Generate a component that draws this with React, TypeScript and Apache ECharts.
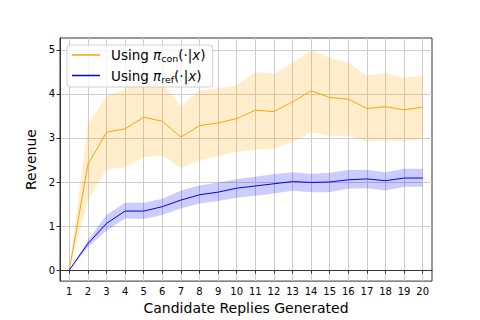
import React, { useEffect, useRef } from "react";
import * as echarts from "echarts";

const xs = [1, 2, 3, 4, 5, 6, 7, 8, 9, 10, 11, 12, 13, 14, 15, 16, 17, 18, 19, 20];
const conMean = [0, 2.4, 3.13, 3.21, 3.47, 3.38, 3.02, 3.28, 3.34, 3.44, 3.63, 3.6, 3.82, 4.07, 3.92, 3.88, 3.67, 3.71, 3.64, 3.7];
const conUpper = [0, 3.31, 3.95, 4.1, 4.3, 4.25, 3.72, 4.08, 4.13, 4.19, 4.5, 4.45, 4.71, 4.99, 4.82, 4.71, 4.42, 4.48, 4.36, 4.42];
const conLower = [0, 1.59, 2.29, 2.33, 2.57, 2.61, 2.31, 2.5, 2.59, 2.68, 2.74, 2.75, 2.91, 3.13, 3.05, 3.05, 2.92, 2.94, 2.93, 2.98];
const refMean = [0, 0.6, 1.06, 1.34, 1.34, 1.44, 1.59, 1.71, 1.77, 1.86, 1.91, 1.96, 2.01, 1.99, 2.0, 2.05, 2.07, 2.03, 2.09, 2.09];
const refUpper = [0, 0.68, 1.25, 1.53, 1.53, 1.62, 1.81, 1.92, 1.99, 2.06, 2.12, 2.18, 2.22, 2.19, 2.21, 2.27, 2.28, 2.22, 2.3, 2.3];
const refLower = [0, 0.52, 0.9, 1.17, 1.16, 1.25, 1.4, 1.51, 1.57, 1.64, 1.69, 1.74, 1.8, 1.77, 1.77, 1.85, 1.86, 1.81, 1.89, 1.89];
const yTicks = [0, 1, 2, 3, 4, 5];
const seriesNames = ["con", "ref"];

const FONT = "DejaVu Sans";

function band(upper: number[], lower: number[], fill: string) {
  return {
    type: "custom",
    name: "band",
    silent: true,
    z: 1,
    data: xs.map((x, i) => [x, lower[i], upper[i]]),
    encode: { x: 0, y: [1, 2] },
    renderItem: (params: any, api: any) => {
      if (params.dataIndex !== 0) return null;
      const pts: number[][] = [];
      for (let i = 0; i < xs.length; i++) pts.push(api.coord([xs[i], upper[i]]));
      for (let i = xs.length - 1; i >= 0; i--) pts.push(api.coord([xs[i], lower[i]]));
      return { type: "polygon", shape: { points: pts }, style: { fill } };
    },
  };
}

export default function App() {
  const ref = useRef<HTMLDivElement>(null);
  useEffect(() => {
    if (!ref.current) return;
    const chart = echarts.init(ref.current, undefined, { renderer: "svg" });
    chart.setOption({
      animation: false,
      textStyle: { fontFamily: FONT },
      grid: {
        left: 60,
        right: 48,
        top: 38,
        bottom: 36,
        show: true,
        borderColor: "#333",
        borderWidth: 1,
        backgroundColor: "transparent",
      },
      legend: {
        orient: "vertical",
        left: 67,
        top: 45,
        data: seriesNames.map((n) => ({ name: n })),
        icon: "rect",
        itemWidth: 28,
        itemHeight: 1.5,
        itemGap: 5,
        padding: [3, 7, 3, 5],
        borderColor: "#d0d0d0",
        borderWidth: 1,
        borderRadius: 3,
        backgroundColor: "rgba(255,255,255,0.8)",
        formatter: (name: string) =>
          `{t|Using }{pi|π}{sub|${name}}{t|(·|}{pi|x}{t|)}`,
        textStyle: {
          padding: [0, 0, 0, 6],
          rich: {
            t: { fontSize: 13.5, fontFamily: FONT, color: "#000" },
            pi: { fontSize: 13.5, fontFamily: FONT, fontStyle: "italic", color: "#000" },
            sub: { fontSize: 9.5, fontFamily: FONT, color: "#000", padding: [7, 0, 0, 0] },
          },
        },
      },
      xAxis: {
        type: "value",
        min: 0.5,
        max: 20.5,
        name: "Candidate Replies Generated",
        nameLocation: "middle",
        nameGap: 13,
        nameTextStyle: { fontSize: 14, fontFamily: FONT, color: "#000" },
        axisLine: { show: true, lineStyle: { color: "#333", width: 1 } },
        axisTick: { show: true, customValues: xs, length: 3.5, lineStyle: { color: "#333" } },
        axisLabel: { customValues: xs, fontSize: 10, color: "#000", margin: 5, fontFamily: FONT },
        splitLine: { show: true, lineStyle: { color: "#cccccc", width: 1 } },
      },
      yAxis: {
        type: "value",
        min: -0.25,
        max: 5.27,
        name: "Revenue",
        nameLocation: "middle",
        nameGap: 16,
        nameTextStyle: { fontSize: 14, fontFamily: FONT, color: "#000" },
        axisLine: { show: true, lineStyle: { color: "#333", width: 1 } },
        axisTick: { show: true, customValues: yTicks, length: 3.5, lineStyle: { color: "#333" } },
        axisLabel: { customValues: yTicks, fontSize: 10, color: "#000", margin: 5, fontFamily: FONT },
        splitLine: { show: true, lineStyle: { color: "#cccccc", width: 1 } },
      },
      series: [
        band(conUpper, conLower, "rgba(255,165,0,0.2)"),
        band(refUpper, refLower, "rgba(0,0,255,0.2)"),
        {
          type: "line",
          name: "con",
          data: xs.map((x, i) => [x, conMean[i]]),
          symbol: "none",
          z: 3,
          color: "#FFA500",
          lineStyle: { color: "#FFA500", width: 1 },
        },
        {
          type: "line",
          name: "ref",
          data: xs.map((x, i) => [x, refMean[i]]),
          symbol: "none",
          z: 3,
          color: "#0000FF",
          lineStyle: { color: "#0000FF", width: 1 },
        },
      ],
    });
    return () => chart.dispose();
  }, []);
  return <div ref={ref} style={{ width: 480, height: 320, marginLeft: -8, marginTop: -8 }} />;
}
